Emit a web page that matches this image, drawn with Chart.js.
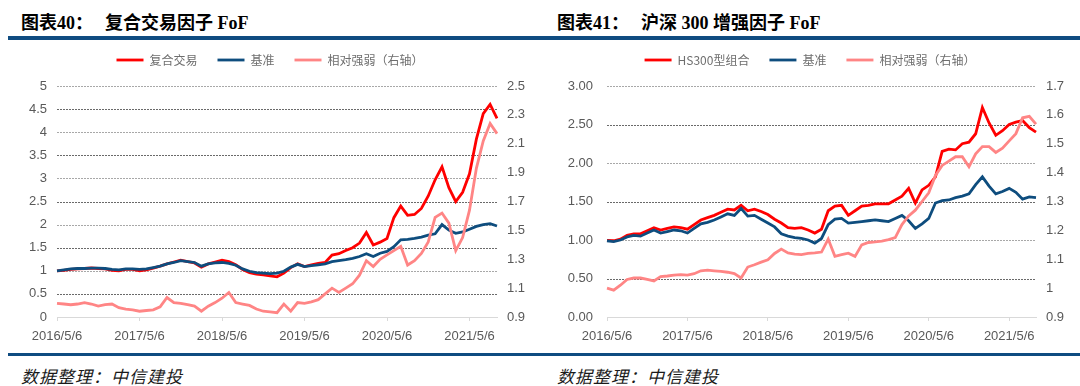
<!DOCTYPE html>
<html>
<head>
<meta charset="utf-8">
<script src="https://cdn.jsdelivr.net/npm/chart.js@4.4.0/dist/chart.umd.min.js"></script>
<style>
  body { margin: 0; width: 1080px; height: 386px; background: #fff; position: relative; overflow: hidden; }
  .title { position: absolute; top: 8px; font: bold 18px "Liberation Serif", "Noto Sans CJK SC", serif; color: #000; white-space: nowrap; }
  .title .gap { display: inline-block; width: 12px; }
  .rule { position: absolute; left: 8px; width: 1072px; background: #0f4c81; }
  .note { position: absolute; top: 363px; font: italic 17px "Noto Sans CJK SC", sans-serif; letter-spacing: 1px; color: #1a1a1a; white-space: nowrap; }
  canvas { position: absolute; top: 34px; }
</style>
</head>
<body>
<div class="title" style="left:21px">图表40：<span class="gap"></span>复合交易因子 FoF</div>
<div class="title" style="left:557px">图表41：<span class="gap"></span>沪深 300 增强因子 FoF</div>
<div class="rule" style="top:36px;height:4px"></div>
<canvas id="c40" width="540" height="310" style="left:0"></canvas>
<canvas id="c41" width="540" height="310" style="left:540px"></canvas>
<div class="rule" style="top:353px;height:3px"></div>
<div class="note" style="left:21px">数据整理：中信建投</div>
<div class="note" style="left:557px">数据整理：中信建投</div>

<script>
// ---- data (monthly readings, 2016/5/6 .. 2021/9/6) ----
const tickLabels = ["2016/5/6", "2017/5/6", "2018/5/6", "2019/5/6", "2020/5/6", "2021/5/6"];

const dates = [];
for (let k = 0; k < 65; k++) {
  const m = 4 + k;
  dates.push(`${2016 + Math.floor(m / 12)}/${(m % 12) + 1}/6`);
}

// 图表40 复合交易因子 FoF
const fund40 = [
  1.00, 1.01, 1.03, 1.04, 1.05, 1.06, 1.05, 1.04, 1.01, 1.00, 1.03, 1.03,
  1.00, 1.02, 1.06, 1.10, 1.15, 1.19, 1.23, 1.20, 1.17, 1.08, 1.15, 1.19,
  1.23, 1.20, 1.13, 1.03, 0.96, 0.93, 0.91, 0.89, 0.87, 0.95, 1.07, 1.15,
  1.09, 1.13, 1.16, 1.18, 1.34, 1.37, 1.44, 1.50, 1.60, 1.83, 1.56, 1.62,
  1.70, 2.15, 2.40, 2.20, 2.22, 2.35, 2.62, 2.97, 3.25, 2.80, 2.50, 2.70,
  3.10, 3.85, 4.40, 4.60, 4.30
];
const bench40 = [
  1.00, 1.02, 1.04, 1.05, 1.05, 1.06, 1.06, 1.05, 1.03, 1.02, 1.04, 1.04,
  1.03, 1.04, 1.07, 1.10, 1.15, 1.18, 1.22, 1.20, 1.18, 1.10, 1.15, 1.17,
  1.18, 1.16, 1.12, 1.04, 0.99, 0.96, 0.95, 0.94, 0.95, 0.99, 1.08, 1.14,
  1.09, 1.11, 1.13, 1.15, 1.20, 1.22, 1.24, 1.27, 1.31, 1.37, 1.31, 1.38,
  1.42, 1.52, 1.67, 1.68, 1.70, 1.73, 1.77, 1.80, 2.00, 1.88, 1.81, 1.84,
  1.90, 1.96, 2.00, 2.02, 1.97
];
const rel40 = [
  0.995, 0.99, 0.985, 0.99, 1.00, 0.99, 0.975, 0.985, 0.99, 0.965, 0.955, 0.95,
  0.94, 0.945, 0.95, 0.97, 1.035, 1.00, 0.995, 0.985, 0.975, 0.94, 0.975, 1.00,
  1.03, 1.07, 1.00, 0.99, 0.98, 0.955, 0.94, 0.935, 0.93, 0.99, 0.94, 1.00,
  0.995, 1.005, 1.02, 1.06, 1.10, 1.07, 1.10, 1.13, 1.19, 1.29, 1.25, 1.30,
  1.33, 1.36, 1.39, 1.26, 1.29, 1.34, 1.42, 1.59, 1.62, 1.55, 1.36, 1.45,
  1.64, 1.93, 2.12, 2.24, 2.17
];

// 图表41 沪深 300 增强因子 FoF
const fund41 = [
  0.995, 0.99, 1.01, 1.06, 1.08, 1.08, 1.12, 1.16, 1.13, 1.15, 1.17, 1.16,
  1.14, 1.20, 1.26, 1.29, 1.32, 1.36, 1.40, 1.39, 1.45, 1.38, 1.40, 1.37,
  1.33, 1.27, 1.22, 1.16, 1.15, 1.16, 1.13, 1.09, 1.14, 1.38, 1.44, 1.45,
  1.32, 1.38, 1.44, 1.45, 1.47, 1.47, 1.47, 1.52, 1.57, 1.67, 1.48, 1.65,
  1.71, 1.82, 2.15, 2.18, 2.17, 2.25, 2.27, 2.38, 2.72, 2.52, 2.36, 2.42,
  2.50, 2.53, 2.55, 2.46, 2.40
];
const bench41 = [
  0.99, 0.98, 1.00, 1.04, 1.06, 1.05, 1.09, 1.13, 1.09, 1.11, 1.13, 1.12,
  1.09, 1.15, 1.21, 1.23, 1.26, 1.30, 1.34, 1.32, 1.41, 1.31, 1.32, 1.27,
  1.22, 1.17, 1.08, 1.05, 1.03, 1.02, 1.00, 0.96, 1.02, 1.20, 1.27, 1.28,
  1.22, 1.23, 1.24, 1.25, 1.26, 1.25, 1.24, 1.28, 1.32, 1.25, 1.15, 1.21,
  1.28, 1.48, 1.51, 1.52, 1.55, 1.57, 1.60, 1.72, 1.82, 1.70, 1.60, 1.63,
  1.67, 1.62, 1.53, 1.56, 1.55
];
const rel41 = [
  1.00, 0.993, 1.01, 1.03, 1.035, 1.035, 1.03, 1.025, 1.04, 1.042, 1.045, 1.047,
  1.045, 1.05, 1.06, 1.062, 1.06, 1.058, 1.055, 1.05, 1.035, 1.073, 1.081, 1.09,
  1.098, 1.12, 1.135, 1.122, 1.118, 1.116, 1.12, 1.122, 1.125, 1.17, 1.11, 1.116,
  1.121, 1.11, 1.15, 1.158, 1.16, 1.163, 1.168, 1.175, 1.22, 1.25, 1.27, 1.30,
  1.33, 1.39, 1.425, 1.44, 1.455, 1.455, 1.42, 1.465, 1.49, 1.49, 1.47, 1.485,
  1.51, 1.535, 1.59, 1.595, 1.568
];

// ---- drawing ----
Chart.defaults.font.family = '"Liberation Sans", Arial, sans-serif';
Chart.defaults.color = "#595959";

const RED = "#ff0000", BLUE = "#0e4d7e", PINK = "#ff8585";

// horizontal grid at the left axis ticks, alternating darker / lighter like the source.
// drawn at the very end but behind what is already on the canvas (destination-over)
const tickGrid = {
  id: "tickGrid",
  afterDraw(chart) {
    const { ctx, chartArea: a } = chart;
    const y = chart.scales.y;
    ctx.save();
    ctx.globalCompositeOperation = "destination-over";
    ctx.globalAlpha = 1;
    y.ticks.forEach((t, i) => {
      if (t.value === 0) return; // the axis line sits there
      const py = Math.round(y.getPixelForValue(t.value));
      ctx.fillStyle = i % 2 ? "#6a6a6a" : "#a8a8a8";
      for (let x = a.left; x < a.right; x += 3) {
        ctx.fillRect(x, py, Math.min(2, a.right - x), 1);
      }
    });
    ctx.restore();
  }
};

// a bit more room under the legend, so the plot starts where the source's does
const legendGap = {
  id: "legendGap",
  afterInit(chart) {
    const lg = chart.legend;
    if (!lg) return;
    const fit = lg.fit;
    lg.fit = function () { fit.call(this); this.height += 10; };
  }
};

function makeChart(id, names, fund, bench, rel, axes) {
  const line = (label, data, color, yAxisID, order) => ({
    label, data, yAxisID, order,
    borderColor: color, backgroundColor: color,
    borderWidth: 2.8, pointRadius: 0, tension: 0, fill: false
  });

  return new Chart(document.getElementById(id), {
    type: "line",
    data: {
      labels: dates,
      datasets: [
        line(names[0], fund, RED, "y", 2),
        line(names[1], bench, BLUE, "y", 1),
        line(names[2], rel, PINK, "y1", 0)
      ]
    },
    plugins: [tickGrid, legendGap],
    options: {
      responsive: false,
      animation: false,
      devicePixelRatio: 1,
      layout: { padding: 0 },
      plugins: {
        tooltip: { enabled: false },
        legend: {
          position: "top",
          labels: {
            font: { family: '"Noto Sans CJK SC", sans-serif', size: 12 },
            color: "#6e6e6e",
            usePointStyle: true,
            pointStyle: "line",
            pointStyleWidth: 27,
            padding: 20,
            sort: (a, b) => a.datasetIndex - b.datasetIndex
          }
        }
      },
      scales: {
        x: {
          afterBuildTicks: s => { s.ticks = s.ticks.filter(t => tickLabels.includes(dates[t.value])); },
          afterFit: s => { s.height = 27; },
          ticks: { autoSkip: false, maxRotation: 0, padding: 8, font: { size: 13 } },
          grid: { drawOnChartArea: false, color: "#d9d9d9", tickLength: 4 },
          border: { color: "#d9d9d9" }
        },
        y: {
          position: "left",
          min: axes.left[0], max: axes.left[1],
          afterFit: s => { s.width = axes.leftWidth; },
          ticks: { stepSize: axes.left[2], padding: axes.leftPad, font: { size: 13 }, callback: axes.leftFmt },
          grid: { drawOnChartArea: false, drawTicks: false },
          border: { display: false }
        },
        y1: {
          position: "right",
          min: axes.right[0], max: axes.right[1],
          afterFit: s => { s.width = axes.rightWidth; },
          ticks: { stepSize: axes.right[2], padding: 10, font: { size: 13 }, callback: v => String(+v.toFixed(1)) },
          grid: { drawOnChartArea: false, drawTicks: false },
          border: { display: false }
        }
      }
    }
  });
}

makeChart("c40", ["复合交易", "基准", "相对强弱（右轴）"], fund40, bench40, rel40, {
  left: [0, 5, 0.5], right: [0.9, 2.5, 0.2],
  leftWidth: 57, rightWidth: 43, leftPad: 10,
  leftFmt: v => String(+v.toFixed(1))
});

makeChart("c41", ["HS300型组合", "基准", "相对强弱（右轴）"], fund41, bench41, rel41, {
  left: [0, 3, 0.5], right: [0.9, 1.7, 0.1],
  leftWidth: 67, rightWidth: 44, leftPad: 14,
  leftFmt: v => v.toFixed(2)
});
</script>
</body>
</html>
